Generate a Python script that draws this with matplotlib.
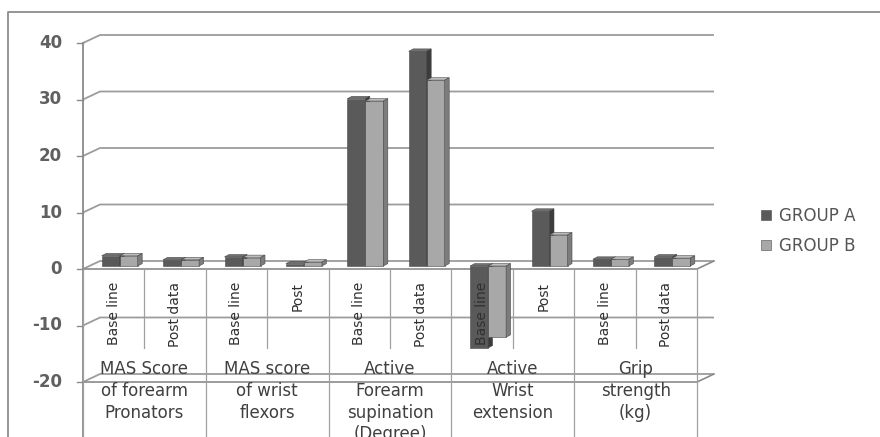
import matplotlib
matplotlib.use("Agg")
import matplotlib.pyplot as plt
from matplotlib.patches import Polygon
from matplotlib.lines import Line2D

# ---- data -------------------------------------------------------------
subcategories = ["Base line", "Post data", "Base line", "Post", "Base line",
                 "Post data", "Base line", "Post", "Base line", "Post data"]
groups = ["MAS Score\nof forearm\nPronators",
          "MAS score\nof wrist\nflexors",
          "Active\nForearm\nsupination\n(Degree)",
          "Active\nWrist\nextension",
          "Grip\nstrength\n(kg)"]
group_a = [1.8, 1.1, 1.6, 0.4, 29.6, 38.0, -14.5, 9.7, 1.2, 1.6]
group_b = [1.8, 1.1, 1.5, 0.7, 29.2, 32.9, -12.6, 5.5, 1.2, 1.4]
series_names = ["GROUP A", "GROUP B"]
yticks = [-20, -10, 0, 10, 20, 30, 40]

# ---- layout -----------------------------------------------------------
W, H = 880, 437
X0, Y0 = 83, 269          # front-plane origin (pixels)
PX, PY = 61.4, 5.65       # pixels per category / per unit
DX, DY = 17 / PX, 8 / PY  # depth of the back wall
OFX, OFY = 6 / PX, 3 / PY # bar front plane offset
BDX, BDY = 4.5 / PX, 2.4 / PY  # bar depth
BW = 18 / PX

fig = plt.figure(figsize=(W / 100, H / 100), dpi=100)
ax = fig.add_axes([0, 0, 1, 1])
ax.set_xlim(-X0 / PX, (W - X0) / PX)
ax.set_ylim((Y0 - H) / PY, Y0 / PY)
ax.axis("off")
ymin_fig = (Y0 - H) / PY
n = len(subcategories)

grid_c = "#9c9c9c"
line_c = "#8a8a8a"

# back wall gridlines, diagonals, ticks and labels
for t in yticks:
    ax.plot([0, DX, n + DX], [t, t + DY, t + DY], color=grid_c, lw=1.3,
            zorder=1, solid_capstyle="butt")
    ax.plot([-6 / PX, 0], [t, t], color=line_c, lw=1.0, zorder=1)
    ax.text(-21 / PX, t, str(t), ha="right", va="center", fontsize=12,
            fontweight="bold", color="#606060", family="DejaVu Sans")

# front edges of the floor (0) and the bottom (-20)
for t in (0, min(yticks)):
    ax.plot([0, n, n + DX], [t, t, t + DY], color=line_c, lw=1.2, zorder=2)

# vertical axis
ax.plot([0, 0], [max(yticks), ymin_fig], color=line_c, lw=1.3, zorder=2)

# category dividers
for i in range(n + 1):
    if i % 2 == 0:
        ax.plot([i, i], [0, ymin_fig], color="#a0a0a0", lw=0.9, zorder=2)
    else:
        ax.plot([i, i], [0, (Y0 - 348) / PY], color="#a0a0a0", lw=0.9, zorder=2)

# ---- bars -------------------------------------------------------------
styles = [
    dict(front="#5a5a5a", top="#707070", side="#3c3c3c", z=3),
    dict(front="#a8a8a8", top="#bdbdbd", side="#7c7c7c", z=4),
]
lefts_a = [i + 0.5 + OFX - BW for i in range(n)]
lefts_b = [i + 0.5 + OFX for i in range(n)]
handles = []
for lefts, vals, st in ((lefts_a, group_a, styles[0]), (lefts_b, group_b, styles[1])):
    bars = ax.bar(lefts, vals, width=BW, bottom=OFY, align="edge",
                  color=st["front"], edgecolor="#4a4a4a", linewidth=0.4,
                  zorder=st["z"])
    handles.append(bars)
    for x0, v in zip(lefts, vals):
        x1 = x0 + BW
        top = OFY + max(v, 0)
        bot = OFY + min(v, 0)
        ax.add_patch(Polygon([(x0, top), (x1, top), (x1 + BDX, top + BDY),
                              (x0 + BDX, top + BDY)], closed=True,
                             facecolor=st["top"], edgecolor="#4a4a4a",
                             linewidth=0.4, zorder=st["z"]))
        ax.add_patch(Polygon([(x1, bot), (x1, top), (x1 + BDX, top + BDY),
                              (x1 + BDX, bot + BDY)], closed=True,
                             facecolor=st["side"], edgecolor="#4a4a4a",
                             linewidth=0.4, zorder=st["z"]))

# ---- category labels ------------------------------------------------
for i, lab in enumerate(subcategories):
    ax.text(i + 0.5, (Y0 - 282) / PY, lab, rotation=90, ha="center", va="top",
            fontsize=10, color="#303030", family="DejaVu Sans", zorder=6)

for g, lab in enumerate(groups):
    ax.text(2 * g + 1, (Y0 - 360) / PY, lab, ha="center", va="top",
            fontsize=12, color="#404040", family="DejaVu Sans",
            linespacing=1.27, zorder=6)

# ---- legend -----------------------------------------------------------
leg = fig.legend(handles, series_names, loc="upper left",
                 bbox_to_anchor=(746 / W, 1 - 192 / H), frameon=False,
                 handlelength=0.6, handleheight=0.6, handletextpad=0.5,
                 labelspacing=0.72, prop={"family": "DejaVu Sans", "size": 12})
for txt in leg.get_texts():
    txt.set_color("#555555")

# ---- chart border -----------------------------------------------------
fig.add_artist(Line2D([8 / W, 8 / W, 1], [0, 1 - 12 / H, 1 - 12 / H],
                      transform=fig.transFigure, color="#8c8c8c", lw=1.3))

fig.savefig("out.png", dpi=100)
